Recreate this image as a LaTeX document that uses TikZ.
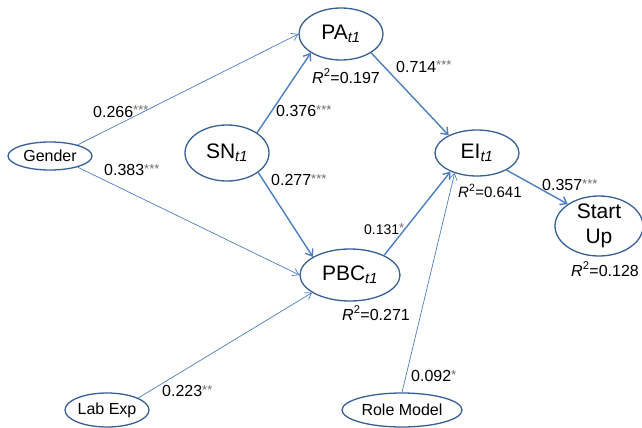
\documentclass[tikz,border=0pt]{standalone}
\usepackage{fontspec}
\setmainfont{Liberation Sans}
\usetikzlibrary{shapes.geometric,arrows.meta}
\definecolor{pathblue}{RGB}{76,126,194}
\definecolor{rimblue}{RGB}{55,95,150}
\definecolor{stargray}{RGB}{110,110,110}
\newcommand{\coef}[2]{#1\raisebox{2pt}{\fontsize{13}{13}\selectfont\color{stargray}#2}}
\newcommand{\rsq}[1]{\textit{R}\textsuperscript{2}=#1}
\newcommand{\tone}{\textsubscript{\textit{t1}}}
\tikzset{
	latent/.style={ellipse,draw=rimblue,line width=1.3pt,inner sep=0pt,font=\fontsize{21}{25}\selectfont},
	observed/.style={ellipse,draw=rimblue,line width=1.3pt,inner sep=0pt,font=\fontsize{16}{19}\selectfont},
	strong/.style={pathblue,line width=1.4pt,-{Straight Barb[length=6pt,width=9pt]}},
	weak/.style={pathblue,line width=0.7pt,-{Straight Barb[length=6pt,width=8pt]}},
	coefs/.style={anchor=base west,inner sep=0pt,font=\fontsize{16}{19}\selectfont},
	small coefs/.style={coefs,font=\fontsize{14}{17}\selectfont},
}
\begin{document}
\begin{tikzpicture}[x=1pt,y=-1pt]
	\useasboundingbox (0,0) rectangle (642,428);
	% constructs
	\node[latent,minimum width=84pt,minimum height=52pt] (PA) at (341,34) {PA\tone};
	\node[latent,minimum width=84pt,minimum height=56pt] (SN) at (227,153) {SN\tone};
	\node[latent,minimum width=84pt,minimum height=46pt] (EI) at (477,153) {EI\tone};
	\node[latent,minimum width=100pt,minimum height=52pt] (PBC) at (350,275) {PBC\tone};
	\node[latent,minimum width=88pt,minimum height=60pt,align=center,inner ysep=-12pt] (StartUp) at (599,226) {Start\\Up};
	\node[observed,minimum width=84pt,minimum height=28pt] (Gender) at (50,156) {Gender};
	\node[observed,minimum width=84pt,minimum height=34pt] (LabExp) at (107,410) {Lab Exp};
	\node[observed,minimum width=120pt,minimum height=34pt] (RoleModel) at (402,410) {Role Model};
	% paths
	\draw[weak] (Gender.22) -- (PA.180);
	\draw[weak] (Gender.338) -- (PBC.180);
	\draw[strong] (SN.34) -- (PA.212);
	\draw[strong] (SN.328) -- (PBC.154);
	\draw[strong] (PA.328) -- (EI.148);
	\draw[strong] (PBC.30) -- (EI.215);
	\draw[weak] (RoleModel.north) -- (EI.222);
	\draw[weak] (LabExp.21) -- (PBC.205);
	\draw[strong] (EI.330) -- (StartUp.145);
	% coefficients
	\node[coefs] (cGenPA) at (93,117) {\coef{0.266}{***}};
	\node[coefs] (cGenPBC) at (104,175) {\coef{0.383}{***}};
	\node[coefs] (cSNPA) at (276,116) {\coef{0.376}{***}};
	\node[coefs] (cSNPBC) at (271,185) {\coef{0.277}{***}};
	\node[coefs] (cPAEI) at (396,72) {\coef{0.714}{***}};
	\node[coefs] (cEISU) at (542,190) {\coef{0.357}{***}};
	\node[small coefs] (cPBCEI) at (364,234) {\coef{0.131}{*}};
	\node[coefs] (cLabPBC) at (162,396) {\coef{0.223}{**}};
	\node[coefs] (cRoleEI) at (411,381) {\coef{0.092}{*}};
	% explained variance
	\node[coefs] (rPA) at (312,83) {\rsq{0.197}};
	\node[small coefs,font=\fontsize{15}{18}\selectfont] (rEI) at (458,197) {\rsq{0.641}};
	\node[coefs] (rPBC) at (342,320) {\rsq{0.271}};
	\node[coefs] (rSU) at (571,276) {\rsq{0.128}};
\end{tikzpicture}
\end{document}
